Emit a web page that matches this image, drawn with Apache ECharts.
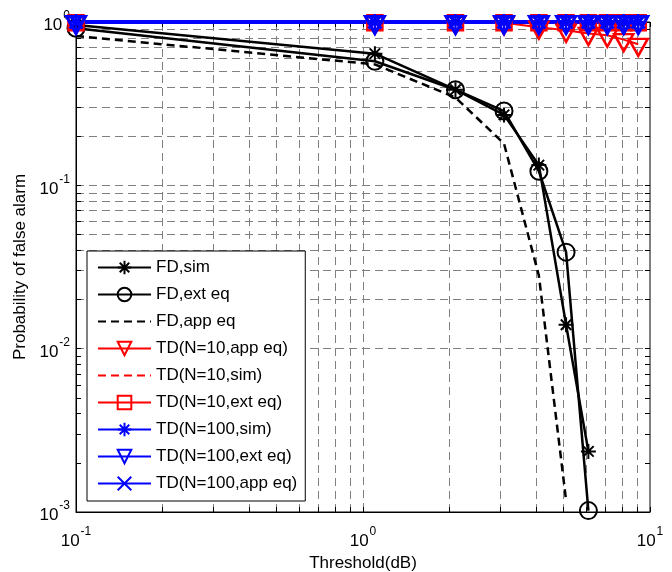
<!DOCTYPE html>
<html><head><meta charset="utf-8">
<script src="https://cdn.jsdelivr.net/npm/echarts@6/dist/echarts.min.js"></script>
<style>html,body{margin:0;padding:0;background:#fff}#c{width:672px;height:572px}</style>
</head><body><div id="c"></div>
<script>
// ---- data ----
const thresholds = [0.1, 1.1, 2.1, 3.1, 4.1, 5.1, 6.1, 7.1, 8.1, 9.1];
const fdSim   = [0.96, 0.64, 0.385, 0.27, 0.133, 0.014, 0.00235];
const fdExt   = [0.915, 0.575, 0.385, 0.285, 0.122, 0.039, 0.00102];
const fdApp   = [0.82, 0.55, 0.345, 0.18, 0.028, 0.00118];
const td10App = [1, 1, 1, 0.99, 0.93, 0.89, 0.85, 0.83, 0.78, 0.73];
const td10Sim = [0.99, 0.99, 0.99, 0.99, 0.99, 0.99, 0.99, 0.99, 0.99, 0.99];
const td10Ext = [0.99, 0.99, 0.99, 0.99, 0.99, 0.99, 0.99, 0.99, 0.99, 0.99];
const td100Sim = [1, 1, 1, 1, 1, 1, 1, 1, 1, 1];
const td100Ext = [1, 1, 1, 1, 1, 1, 1, 1, 1, 1];
const td100App = [1, 1, 1, 1, 1, 1, 1, 1, 1, 1];
const seriesNames = ['FD,sim', 'FD,ext eq', 'FD,app eq', 'TD(N=10,app eq)', 'TD(N=10,sim)',
  'TD(N=10,ext eq)', 'TD(N=100,sim)', 'TD(N=100,ext eq)', 'TD(N=100,app eq)'];
const xRange = [0.1, 10];
const yRange = [0.001, 1];
const xLabel = 'Threshold(dB)';
const yLabel = 'Probability of false alarm';

// ---- layout / style ----
const FONT = "'Liberation Sans', Arial, sans-serif";
const G = { left: 76, right: 22, top: 22, bottom: 60 };
const W = 672, H = 572;
const pxPerDecX = (W - G.left - G.right) / Math.log10(xRange[1] / xRange[0]);
const pxPerDecY = (H - G.top - G.bottom) / Math.log10(yRange[1] / yRange[0]);
const TICK = 5;
const fx = Math.pow(10, TICK / pxPerDecX);
const fy = Math.pow(10, TICK / pxPerDecY);

const pairs = (ys) => ys.map((y, i) => [thresholds[i], y]);

const STAR = 'path://M10,0L10,20M0,10L20,10M3,3L17,17M3,17L17,3';
const XMARK = 'path://M0,0L20,20M0,20L20,0';

function decadeValues(lo, hi, minorOnly) {
  const out = [];
  for (let d = lo; d < hi * 0.999; d *= 10) {
    for (let k = 1; k <= 9; k++) {
      if (minorOnly && k === 1) continue;
      out.push(+(d * k).toPrecision(6));
    }
  }
  if (!minorOnly) out.push(hi);
  return out;
}
const xMinor = decadeValues(xRange[0], xRange[1], true);
const yMinor = decadeValues(yRange[0], yRange[1], true);
const xAll = decadeValues(xRange[0], xRange[1], false);
const yAll = decadeValues(yRange[0], yRange[1], false);

const gridLines = [];
xMinor.forEach(v => gridLines.push({ xAxis: v }));
yMinor.forEach(v => gridLines.push({ yAxis: v }));

const tickLines = [];
xAll.forEach(v => {
  tickLines.push([{ coord: [v, yRange[0]] }, { coord: [v, yRange[0] * fy] }]);
  tickLines.push([{ coord: [v, yRange[1]] }, { coord: [v, yRange[1] / fy] }]);
});
yAll.forEach(v => {
  tickLines.push([{ coord: [xRange[0], v] }, { coord: [xRange[0] * fx, v] }]);
  tickLines.push([{ coord: [xRange[1], v] }, { coord: [xRange[1] / fx, v] }]);
});

const dashGrid = { color: '#808080', width: 1, type: [8, 5] };

function mk(name, data, color, lw, ltype, symbol, size, bw, extra) {
  return Object.assign({
    name, type: 'line', data: pairs(data), clip: false,
    symbol, symbolSize: size,
    lineStyle: { color, width: lw, type: ltype },
    itemStyle: { color: 'transparent', borderColor: color, borderWidth: bw },
    emphasis: { disabled: true }, z: 5
  }, extra || {});
}

const expFmt = (v) => {
  const e = Math.round(Math.log10(v));
  return '{b|10}{e|' + e + '}';
};
const rich = {
  b: { fontSize: 17, fontFamily: FONT, color: '#000', lineHeight: 24, verticalAlign: 'bottom' },
  e: { fontSize: 12, fontFamily: FONT, color: '#000', lineHeight: 12, verticalAlign: 'top', padding: [0, 0, 0, 1] }
};

const option = {
  animation: false,
  backgroundColor: '#fff',
  grid: Object.assign({ show: true, borderColor: '#000', borderWidth: 1, backgroundColor: 'transparent',
    containLabel: false, outerBoundsMode: 'none' }, G),
  xAxis: {
    type: 'log', logBase: 10, min: xRange[0], max: xRange[1],
    name: xLabel, nameLocation: 'middle', nameGap: 36,
    nameTextStyle: { fontSize: 17, fontFamily: FONT, color: '#000' },
    axisLine: { show: true, lineStyle: { color: '#000', width: 1 } },
    axisTick: { show: false },
    axisLabel: { formatter: expFmt, rich, margin: 14 },
    splitLine: { show: true, lineStyle: dashGrid }
  },
  yAxis: {
    type: 'log', logBase: 10, min: yRange[0], max: yRange[1],
    name: yLabel, nameLocation: 'middle', nameGap: 47, nameRotate: 90,
    nameTextStyle: { fontSize: 17, fontFamily: FONT, color: '#000' },
    axisLine: { show: true, lineStyle: { color: '#000', width: 1 } },
    axisTick: { show: false },
    axisLabel: { formatter: expFmt, rich, margin: 6 },
    splitLine: { show: true, lineStyle: dashGrid }
  },
  legend: {
    data: seriesNames,
    orient: 'vertical', left: 87, top: 251,
    itemWidth: 53, itemHeight: 17, itemGap: 10,
    padding: [8, 8, 9, 10],
    backgroundColor: '#fff', borderColor: '#000', borderWidth: 1,
    textStyle: { fontSize: 17, fontFamily: FONT, color: '#000' },
    selectedMode: false, z: 20
  },
  series: [
    { name: '_grid', type: 'line', data: [], symbol: 'none', silent: true, z: 1,
      markLine: { silent: true, symbol: ['none', 'none'], label: { show: false }, animation: false,
        lineStyle: dashGrid, emphasis: { disabled: true }, data: gridLines } },
    { name: '_ticks', type: 'line', data: [], symbol: 'none', silent: true, z: 2,
      markLine: { silent: true, symbol: ['none', 'none'], label: { show: false }, animation: false,
        lineStyle: { color: '#000', width: 1, type: 'solid' }, emphasis: { disabled: true }, data: tickLines } },
    mk(seriesNames[0], fdSim, '#000', 2.5, 'solid', STAR, 15, 2),
    mk(seriesNames[1], fdExt, '#000', 2.5, 'solid', 'circle', 17, 2),
    mk(seriesNames[2], fdApp, '#000', 2.5, [8, 5], 'circle', 0, 0),
    mk(seriesNames[3], td10App, '#ff0000', 2, 'solid', 'triangle', [19, 17], 2.5, { symbolRotate: 180, symbolOffset: [0, 3] }),
    mk(seriesNames[4], td10Sim, '#ff0000', 2, [8, 5], 'circle', 0, 0),
    mk(seriesNames[5], td10Ext, '#ff0000', 2, 'solid', 'rect', 15, 2.5),
    mk(seriesNames[6], td100Sim, '#0000ff', 3.5, 'solid', STAR, 16, 2.5),
    mk(seriesNames[7], td100Ext, '#0000ff', 3.5, 'solid', 'triangle', [19, 17], 3, { symbolRotate: 180, symbolOffset: [0, 3] }),
    mk(seriesNames[8], td100App, '#0000ff', 3.5, 'solid', XMARK, 13, 3)
  ]
};

const chart = echarts.init(document.getElementById('c'), null, { renderer: 'canvas' });
chart.setOption(option);
</script>
</body></html>
